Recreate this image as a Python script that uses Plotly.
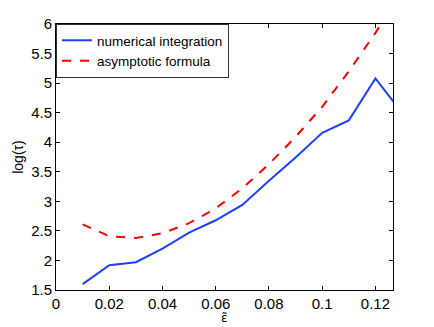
import plotly.graph_objects as go

# values
eps = [0.01, 0.02, 0.03, 0.04, 0.05, 0.06, 0.07, 0.08, 0.09, 0.10, 0.11, 0.12, 0.13]
numerical = [1.60, 1.92, 1.97, 2.20, 2.47, 2.68, 2.94, 3.35, 3.74, 4.16, 4.37, 5.08, 4.50]
asymptotic = [2.61, 2.41, 2.38, 2.46, 2.63, 2.88, 3.22, 3.63, 4.09, 4.60, 5.20, 5.85, 6.55]

x_ticks = [0, 0.02, 0.04, 0.06, 0.08, 0.1, 0.12]
x_labels = ["0", "0.02", "0.04", "0.06", "0.08", "0.1", "0.12"]
y_ticks = [1.5, 2, 2.5, 3, 3.5, 4, 4.5, 5, 5.5, 6]
y_labels = ["1.5", "2", "2.5", "3", "3.5", "4", "4.5", "5", "5.5", "6"]

fig = go.Figure()
fig.add_trace(go.Scatter(x=eps, y=numerical, mode="lines", name="numerical integration",
                         line=dict(color="#1f3fff", width=2)))
fig.add_trace(go.Scatter(x=eps, y=asymptotic, mode="lines", name="asymptotic formula",
                         line=dict(color="#ff0000", width=2, dash="dash")))

axis_style = dict(showline=True, linecolor="black", linewidth=1, mirror="ticks",
                  ticks="inside", ticklen=4, tickcolor="black", showgrid=False, zeroline=False,
                  tickfont=dict(family="Liberation Sans, Arial", size=15, color="black"))

fig.update_layout(
    width=434, height=327,
    margin=dict(l=56, r=41, t=24, b=37),
    paper_bgcolor="white", plot_bgcolor="white",
    font=dict(family="Liberation Sans, Arial", color="black"),
    xaxis=dict(range=[0, 0.1266], tickvals=x_ticks, ticktext=x_labels, **axis_style),
    yaxis=dict(range=[1.5, 6], tickvals=y_ticks, ticktext=y_labels,
               title=dict(text="log(\u03c4)", font=dict(size=14), standoff=4), **axis_style),
    legend=dict(x=0, y=1, xanchor="left", yanchor="top", bgcolor="white",
                bordercolor="#333333", borderwidth=1, font=dict(size=13.5),
                itemwidth=30),
    showlegend=True,
)

# x-axis label (epsilon tilde), placed just under the tick labels
fig.add_annotation(text="\u03b5\u0303", xref="paper", yref="paper", x=0.5, y=0,
                   xanchor="center", yanchor="top", yshift=-20, showarrow=False,
                   borderpad=0, font=dict(family="DejaVu Sans", size=12, color="black"))

# drop the browser's default body margin so the figure fills the window
fig.write_html("out.html", config={"displayModeBar": False},
               post_script="document.body.style.margin='0';")
